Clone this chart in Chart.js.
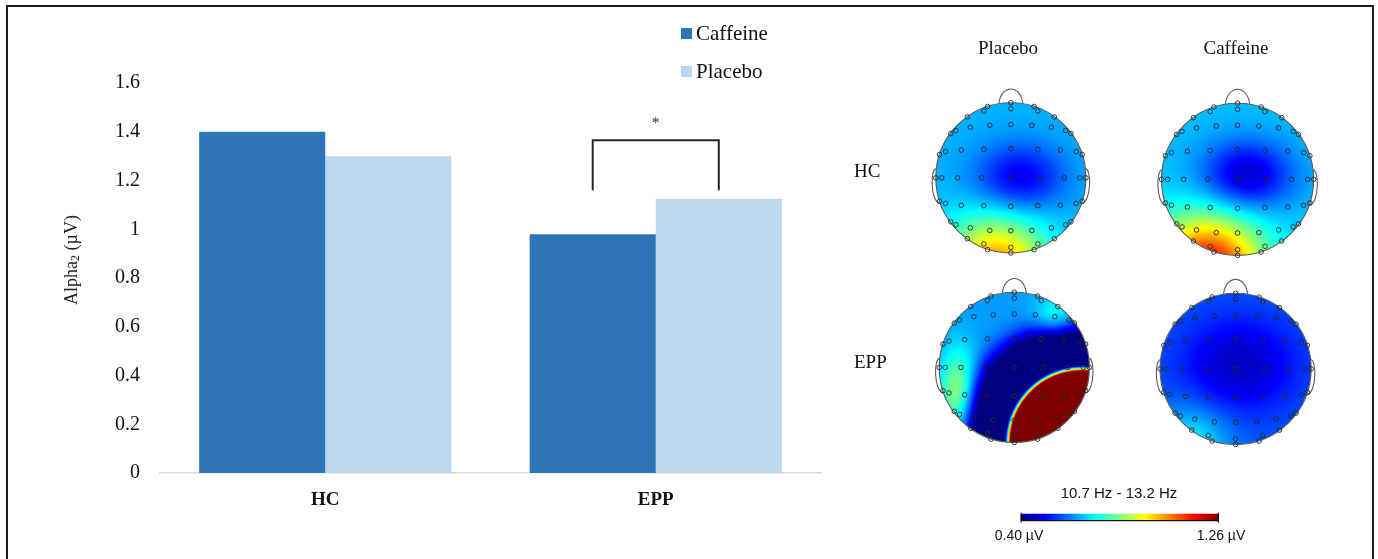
<!DOCTYPE html>
<html>
<head>
<meta charset="utf-8">
<script src="https://cdn.jsdelivr.net/npm/chart.js@4.4.1/dist/chart.umd.min.js"></script>
<style>
html, body { margin: 0; padding: 0; background: #fff; overflow: hidden; }
#wrap { position: relative; width: 1378px; height: 559px; overflow: hidden; }
#bars { position: absolute; left: 0; top: 0; }
#topo { position: absolute; left: 840px; top: 0; }
#frame { position: absolute; left: 6px; top: 5px; width: 1364px; height: 600px; border: 2px solid #1b1b1b; border-bottom: none; pointer-events: none; }
.lbl { position: absolute; white-space: nowrap; line-height: 1; color: #111; }
.serif { font-family: "Liberation Serif", "Times New Roman", serif; }
.sans { font-family: "Liberation Sans", Arial, sans-serif; }
.leg { position: absolute; display: flex; align-items: center; font-family: "Liberation Serif", serif; font-size: 21px; line-height: 1; color: #111; }
.leg .box { display: inline-block; width: 11px; height: 11px; margin-right: 4px; }
</style>
</head>
<body>
<div id="wrap">
  <canvas id="bars" width="840" height="559"></canvas>
  <canvas id="topo" width="538" height="559"></canvas>
  <div id="legend"></div>
  <div id="labels"></div>
  <div id="frame"></div>
</div>
<script>
// bar chart values
var groups = ['HC', 'EPP'];
var caffeine = [1.40, 0.98];
var placebo = [1.30, 1.125];
var yMin = 0, yMax = 1.6, yStep = 0.2;
var sigBracket = [1.365, 1.16];   // top of bracket, end of legs
var sigStar = 1.447;

// topographic maps: 0 HC/Placebo, 1 HC/Caffeine, 2 EPP/Placebo, 3 EPP/Caffeine
var topoConditions = ['Placebo', 'Caffeine'];
var topoGroups = ['HC', 'EPP'];
var colorRange = [0.40, 1.26];
var bandLabel = '10.7 Hz - 13.2 Hz';

var electrodeU = [
  -0.31, -0.36, 0, 0, 0.31, 0.36,
  -0.58, 0.58,
  -0.80, -0.73, -0.54, -0.28, 0, 0.28, 0.54, 0.73, 0.80,
  -0.95, -0.87, -0.66, -0.36, 0, 0.36, 0.66, 0.87, 0.95,
  -1.0, -0.92, -0.71, -0.39, 0, 0.39, 0.71, 0.92, 1.0,
  -0.95, -0.87, -0.66, -0.36, 0, 0.36, 0.66, 0.87, 0.95,
  -0.80, -0.73, -0.54, -0.28, 0, 0.28, 0.54, 0.73, 0.80,
  -0.58, 0.58,
  -0.36, -0.31, 0, 0, 0.31, 0.36
];
var electrodeV = [
  -0.95, -0.89, -1.0, -0.92, -0.95, -0.89,
  -0.81, -0.81,
  -0.59, -0.63, -0.675, -0.70, -0.71, -0.70, -0.675, -0.63, -0.59,
  -0.31, -0.35, -0.37, -0.38, -0.39, -0.38, -0.37, -0.35, -0.31,
  0, 0, 0, 0, 0, 0, 0, 0, 0,
  0.31, 0.34, 0.365, 0.37, 0.38, 0.37, 0.365, 0.34, 0.31,
  0.585, 0.625, 0.665, 0.70, 0.705, 0.70, 0.665, 0.625, 0.585,
  0.81, 0.81,
  0.88, 0.955, 0.925, 1.0, 0.955, 0.88
];

// each map = base level + a few smooth sources (µV)
var mapBase = [0.66, 0.67, 0.64, 0.585];
var srcMap = [0, 0, 1, 1, 2, 2, 2, 2, 3, 3];
var srcU   = [0.12, -0.20, 0.12, -0.40, 0.90, 0.72, -0.75, 0.55, 0.05, -0.60];
var srcV   = [0.00, 1.15, -0.05, 1.15, 1.00, 0.82, 0.35, -0.65, -0.05, 1.00];
var srcAmp = [-0.17, 0.37, -0.21, 0.50, 3.0, -0.60, 0.22, 0.12, -0.13, 0.14];
var srcSU  = [0.59, 0.68, 0.59, 0.72, 0.96, 1.32, 0.25, 0.28, 0.78, 0.50];
var srcSV  = [0.45, 0.62, 0.45, 0.66, 0.96, 1.32, 0.57, 0.28, 0.64, 0.50];
var srcPow = [2, 2, 2, 2, 12, 6, 2, 2, 2, 2];

var serif = '"Liberation Serif", "Times New Roman", serif';
var sans = '"Liberation Sans", Arial, sans-serif';
var darkBlue = '#2e75b6', lightBlue = '#bdd7ee';

// ---------- bar chart ----------
var bracketPlugin = {
  id: 'bracket',
  afterDatasetsDraw: function(chart) {
    var ctx = chart.ctx, y = chart.scales.y;
    var a = chart.getDatasetMeta(0).data[1], b = chart.getDatasetMeta(1).data[1];
    var top = y.getPixelForValue(sigBracket[0]), end = y.getPixelForValue(sigBracket[1]);
    ctx.save();
    ctx.strokeStyle = '#262626';
    ctx.lineWidth = 2;
    ctx.beginPath();
    ctx.moveTo(a.x, end);
    ctx.lineTo(a.x, top);
    ctx.lineTo(b.x, top);
    ctx.lineTo(b.x, end);
    ctx.stroke();
    ctx.fillStyle = '#333';
    ctx.font = '16px ' + serif;
    ctx.textAlign = 'center';
    ctx.textBaseline = 'alphabetic';
    ctx.fillText('*', (a.x + b.x) / 2, y.getPixelForValue(sigStar) + 8);
    ctx.restore();
  }
};

// y title with a real subscript
var yTitlePlugin = {
  id: 'ytitle',
  afterDraw: function(chart) {
    var ctx = chart.ctx;
    var parts = [['Alpha', 18, 0], ['2', 12, 4], [' (\u00b5V)', 18, 0]];
    ctx.save();
    ctx.translate(72, 260);
    ctx.rotate(-Math.PI / 2);
    ctx.fillStyle = '#222';
    ctx.textBaseline = 'middle';
    var total = 0;
    parts.forEach(function(p) { ctx.font = p[1] + 'px ' + serif; total += ctx.measureText(p[0]).width; });
    var x = -total / 2;
    parts.forEach(function(p) {
      ctx.font = p[1] + 'px ' + serif;
      ctx.textAlign = 'left';
      ctx.fillText(p[0], x, p[2]);
      x += ctx.measureText(p[0]).width;
    });
    ctx.restore();
  }
};

var barChart = new Chart(document.getElementById('bars'), {
  type: 'bar',
  data: {
    labels: groups,
    datasets: [
      { label: 'Caffeine', data: caffeine, backgroundColor: darkBlue, borderWidth: 0, barPercentage: 1, categoryPercentage: 0.763 },
      { label: 'Placebo', data: placebo, backgroundColor: lightBlue, borderWidth: 0, barPercentage: 1, categoryPercentage: 0.763 }
    ]
  },
  options: {
    responsive: false,
    animation: false,
    layout: { padding: { top: 83, right: 19, bottom: 0, left: 0 } },
    plugins: { legend: { display: false }, tooltip: { enabled: false } },
    scales: {
      x: {
        grid: { display: false, drawTicks: false },
        border: { display: true, color: '#d9d9d9', width: 1.5 },
        ticks: { color: '#111', padding: 16, font: { family: serif, size: 19, weight: 'bold' } },
        afterFit: function(s) { s.height = 86; }
      },
      y: {
        min: yMin, max: yMax,
        grid: { display: false, drawTicks: false },
        border: { display: false },
        ticks: {
          stepSize: yStep, color: '#111', padding: 20, font: { family: serif, size: 20 },
          callback: function(v) { return String(Math.round(v * 10) / 10); }
        },
        afterFit: function(s) { s.width = 160; }
      }
    }
  },
  plugins: [bracketPlugin, yTitlePlugin]
});

// legend built from the datasets
var legendTops = [23, 61];
barChart.data.datasets.forEach(function(ds, i) {
  var item = document.createElement('div');
  item.className = 'leg';
  item.style.left = '681px';
  item.style.top = legendTops[i] + 'px';
  item.innerHTML = '<span class="box" style="background:' + ds.backgroundColor + '"></span>' + ds.label;
  document.getElementById('legend').appendChild(item);
});

// ---------- topographic maps ----------
var heads = [
  { cx: 1009.0, cy: 176.0, r: 76.5 },
  { cx: 1240.0, cy: 177.5, r: 77.5 },
  { cx: 1012.5, cy: 369.0, r: 76.5 },
  { cx: 1238.0, cy: 370.5, r: 77.0 }
];
var colorBar = { x0: 1019, x1: 1221, y: 518, h: 7 };

function jet(t) {
  t = Math.max(0, Math.min(1, t));
  var c = function(x) { return Math.max(0, Math.min(1, x)); };
  return [c(Math.min(4 * t - 1.5, -4 * t + 4.5)), c(Math.min(4 * t - 0.5, -4 * t + 3.5)), c(Math.min(4 * t + 0.5, -4 * t + 2.5))];
}

function fieldValue(m, u, v) {
  var val = mapBase[m];
  for (var k = 0; k < srcMap.length; k++) {
    if (srcMap[k] !== m) continue;
    var q = Math.hypot((u - srcU[k]) / srcSU[k], (v - srcV[k]) / srcSV[k]);
    val += srcAmp[k] * Math.exp(-Math.pow(q, srcPow[k]));
  }
  return val;
}

var topoPlugin = {
  id: 'topo',
  beforeDatasetsDraw: function(chart) {
    var ctx = chart.ctx, xs = chart.scales.x, ys = chart.scales.y;
    heads.forEach(function(h, m) {
      var cx = xs.getPixelForValue(h.cx), cy = ys.getPixelForValue(h.cy);
      var r = xs.getPixelForValue(h.cx + h.r) - cx;
      var size = Math.ceil(2 * r) + 4;
      var off = document.createElement('canvas');
      off.width = off.height = size;
      var octx = off.getContext('2d');
      var img = octx.createImageData(size, size);
      for (var py = 0; py < size; py++) {
        for (var px = 0; px < size; px++) {
          var u = (px + 0.5 - size / 2) / r, v = (py + 0.5 - size / 2) / r;
          if (u * u + v * v > 1.1) continue;
          var t = (fieldValue(m, u, v) - colorRange[0]) / (colorRange[1] - colorRange[0]);
          var col = jet(t), idx = (py * size + px) * 4;
          img.data[idx] = col[0] * 255;
          img.data[idx + 1] = col[1] * 255;
          img.data[idx + 2] = col[2] * 255;
          img.data[idx + 3] = 255;
        }
      }
      octx.putImageData(img, 0, 0);
      ctx.save();
      ctx.beginPath();
      ctx.arc(cx, cy, r, 0, 2 * Math.PI);
      ctx.clip();
      ctx.drawImage(off, cx - size / 2, cy - size / 2);
      ctx.restore();

      ctx.save();
      ctx.strokeStyle = '#5a5a5a';
      ctx.lineWidth = 1.1;
      ctx.beginPath();
      ctx.arc(cx, cy, r, 0, 2 * Math.PI);
      ctx.stroke();
      // nose
      ctx.beginPath();
      ctx.moveTo(cx - 0.16 * r, cy - 0.987 * r);
      ctx.bezierCurveTo(cx - 0.13 * r, cy - 1.25 * r, cx + 0.13 * r, cy - 1.25 * r, cx + 0.16 * r, cy - 0.987 * r);
      ctx.stroke();
      // ears
      [-1, 1].forEach(function(s) {
        ctx.beginPath();
        ctx.moveTo(cx + s * 0.993 * r, cy - 0.12 * r);
        ctx.bezierCurveTo(cx + s * 1.07 * r, cy - 0.14 * r, cx + s * 1.08 * r, cy + 0.32 * r, cx + s * 0.94 * r, cy + 0.345 * r);
        ctx.stroke();
      });
      ctx.restore();
    });
  },
  afterDraw: function(chart) {
    var ctx = chart.ctx, xs = chart.scales.x, ys = chart.scales.y;
    var x0 = xs.getPixelForValue(colorBar.x0), x1 = xs.getPixelForValue(colorBar.x1);
    var y0 = ys.getPixelForValue(colorBar.y), y1 = ys.getPixelForValue(colorBar.y + colorBar.h);
    var g = ctx.createLinearGradient(x0, 0, x1, 0);
    [0, 0.125, 0.375, 0.625, 0.875, 1].forEach(function(t) {
      var c = jet(t);
      g.addColorStop(t, 'rgb(' + Math.round(c[0] * 255) + ',' + Math.round(c[1] * 255) + ',' + Math.round(c[2] * 255) + ')');
    });
    ctx.save();
    ctx.fillStyle = g;
    ctx.fillRect(x0, y0, x1 - x0, y1 - y0);
    ctx.strokeStyle = '#111';
    ctx.lineWidth = 1.2;
    ctx.beginPath();
    ctx.moveTo(x0, y1);
    ctx.lineTo(x1, y1);
    ctx.moveTo(x0 + 0.5, y0 - 1);
    ctx.lineTo(x0 + 0.5, y1 + 2);
    ctx.moveTo(x1 - 0.5, y0 - 1);
    ctx.lineTo(x1 - 0.5, y1 + 2);
    ctx.stroke();
    ctx.restore();
  }
};

var electrodeSets = heads.map(function(h, m) {
  return {
    label: topoGroups[m >> 1] + ' ' + topoConditions[m & 1],
    data: electrodeU.map(function(u, i) { return { x: h.cx + u * h.r, y: h.cy + electrodeV[i] * h.r }; }),
    pointRadius: 2.3,
    pointBorderWidth: 1,
    pointBorderColor: 'rgba(40,40,40,0.9)',
    pointBackgroundColor: 'rgba(0,0,0,0)'
  };
});

new Chart(document.getElementById('topo'), {
  type: 'scatter',
  data: { datasets: electrodeSets },
  options: {
    responsive: false,
    animation: false,
    layout: { padding: 0 },
    plugins: { legend: { display: false }, tooltip: { enabled: false } },
    scales: {
      x: { type: 'linear', min: 840, max: 1378, display: false },
      y: { type: 'linear', min: 0, max: 559, reverse: true, display: false }
    }
  },
  plugins: [topoPlugin]
});

// text labels for the maps
var labelBox = document.getElementById('labels');
function addLabel(text, x, y, cls, size, anchor) {
  var d = document.createElement('div');
  d.className = 'lbl ' + cls;
  d.textContent = text;
  d.style.left = x + 'px';
  d.style.top = y + 'px';
  d.style.fontSize = size + 'px';
  d.style.transform = anchor === 'left' ? 'translate(0,-50%)' : 'translate(-50%,-50%)';
  labelBox.appendChild(d);
}
addLabel(topoConditions[0], 1008, 47, 'serif', 19);
addLabel(topoConditions[1], 1236, 47, 'serif', 19);
addLabel(topoGroups[0], 854, 170, 'serif', 19, 'left');
addLabel(topoGroups[1], 854, 361, 'serif', 19, 'left');
addLabel(bandLabel, 1119, 492, 'sans', 15);
addLabel(colorRange[0].toFixed(2) + ' \u00b5V', 1019, 535, 'sans', 14);
addLabel(colorRange[1].toFixed(2) + ' \u00b5V', 1221, 535, 'sans', 14);
</script>
</body>
</html>
